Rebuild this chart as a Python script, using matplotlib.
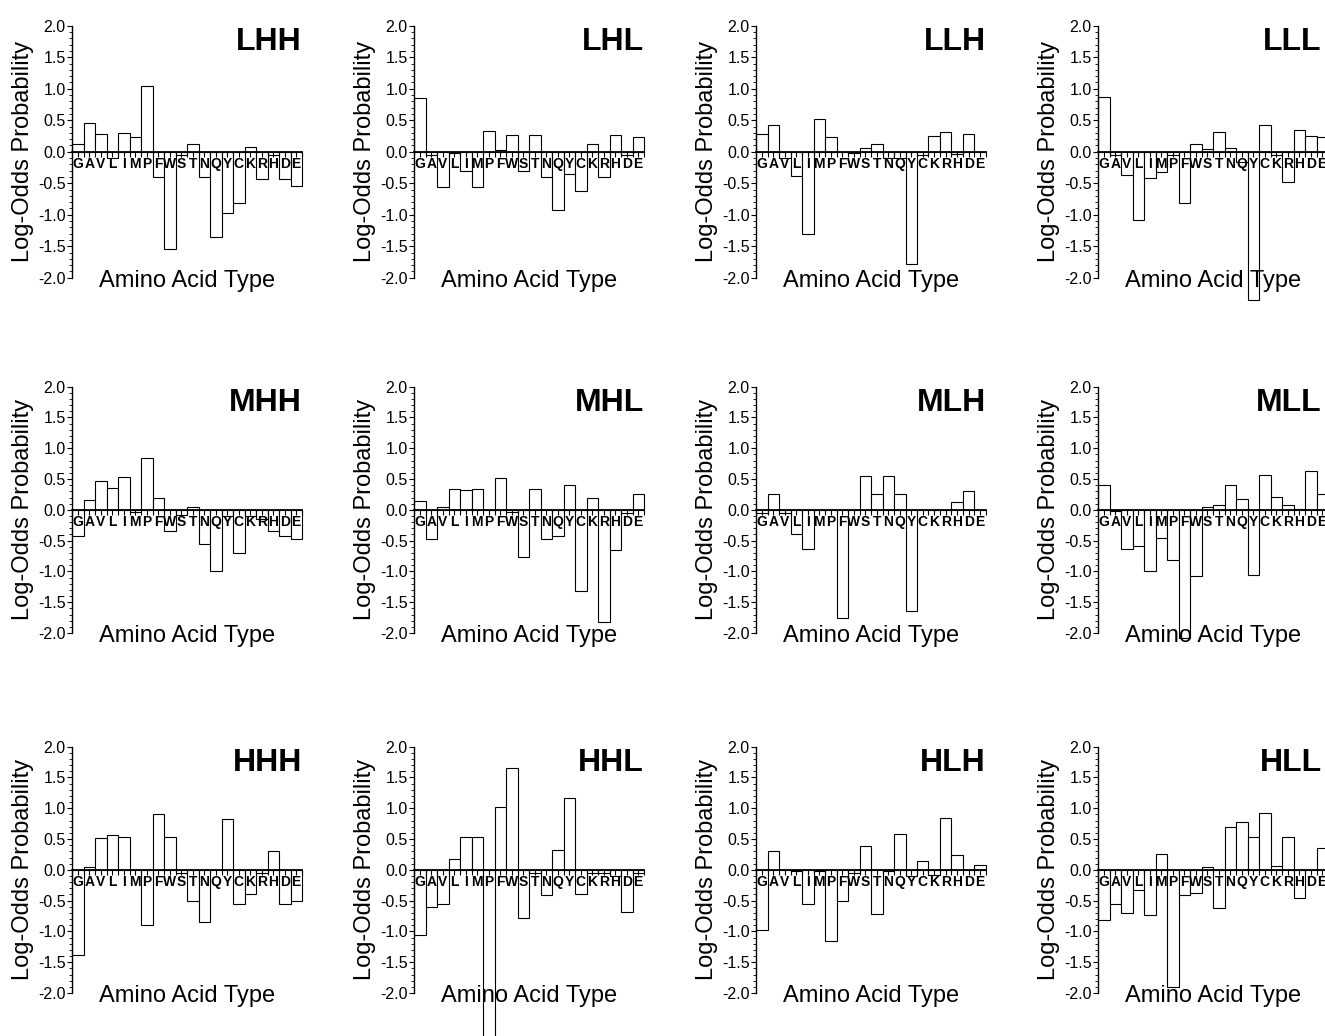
import numpy as np
import matplotlib.pyplot as plt
from matplotlib.ticker import MultipleLocator, FormatStrFormatter

plt.rcParams['font.family'] = ['Liberation Sans', 'DejaVu Sans']
plt.rcParams['axes.unicode_minus'] = False

# amino acid order along the x axis
amino_acids = list("GAVLIMPFWSTNQYCKRHDE")

# log-odds values, one list per panel
lhh = [0.12, 0.45, 0.28, -0.10, 0.30, 0.24, 1.04, -0.40, -1.54, -0.05,
       0.12, -0.40, -1.35, -0.97, -0.82, 0.07, -0.43, -0.05, -0.44, -0.54]
lhl = [0.85, -0.05, -0.56, -0.02, -0.30, -0.56, 0.33, 0.02, 0.27, -0.30,
       0.27, -0.40, -0.92, -0.36, -0.62, 0.13, -0.40, 0.27, -0.05, 0.23]
llh = [0.28, 0.42, -0.10, -0.38, -1.30, 0.52, 0.23, 0.0, -0.02, 0.06,
       0.13, -0.10, -0.10, -1.79, -0.05, 0.25, 0.31, -0.03, 0.28, 0.0]
lll = [0.87, -0.05, -0.37, -1.09, -0.41, -0.33, -0.05, -0.82, 0.12, 0.04,
       0.31, 0.06, -0.16, -2.35, 0.43, -0.05, -0.48, 0.34, 0.25, 0.23]
mhh = [-0.43, 0.16, 0.47, 0.35, 0.54, -0.03, 0.85, 0.19, -0.34, -0.08,
       0.04, -0.56, -1.00, -0.10, -0.70, -0.10, -0.15, -0.35, -0.42, -0.48]
mhl = [0.14, -0.48, 0.04, 0.34, 0.32, 0.34, 0.0, 0.52, -0.03, -0.77,
       0.34, -0.48, -0.42, 0.40, -1.32, 0.19, -1.82, -0.66, -0.05, 0.25]
mlh = [-0.05, 0.25, -0.05, -0.40, -0.64, 0.0, 0.0, -1.76, 0.0, 0.55,
       0.25, 0.55, 0.25, -1.64, 0.0, 0.0, 0.0, 0.12, 0.30, 0.0]
mll = [0.41, -0.02, -0.63, -0.59, -0.99, -0.45, -0.82, -2.08, -1.07, 0.04,
       0.08, 0.41, 0.18, -1.06, 0.57, 0.21, 0.08, 0.02, 0.63, 0.25]
hhh = [-1.39, 0.04, 0.52, 0.56, 0.53, 0.0, -0.90, 0.90, 0.53, -0.05,
       -0.50, -0.85, 0.0, 0.82, -0.56, -0.40, -0.05, 0.30, -0.56, -0.50]
hhl = [-1.05, -0.60, -0.56, 0.17, 0.53, 0.54, -3.00, 1.02, 1.66, -0.79,
       -0.05, -0.41, 0.32, 1.16, -0.39, -0.05, -0.05, -0.10, -0.68, -0.05]
hlh = [-0.97, 0.30, 0.0, -0.02, -0.55, -0.02, -1.15, -0.51, -0.05, 0.39,
       -0.72, -0.02, 0.59, -0.10, 0.14, -0.09, 0.84, 0.24, 0.0, 0.08]
hll = [-0.82, -0.56, -0.70, -0.32, -0.74, 0.26, -1.90, -0.41, -0.38, 0.05,
       -0.62, 0.69, 0.77, 0.54, 0.92, 0.06, 0.54, -0.45, 0.0, 0.36]

panel_names = ["LHH", "LHL", "LLH", "LLL",
               "MHH", "MHL", "MLH", "MLL",
               "HHH", "HHL", "HLH", "HLL"]
panel_values = [lhh, lhl, llh, lll,
                mhh, mhl, mlh, mll,
                hhh, hhl, hlh, hll]

W, H = 1325, 1036
fig = plt.figure(figsize=(W / 100, H / 100), dpi=100)

# panel placement in pixels
col_left = [72, 414, 756, 1098]
ax_width = 230
row_top = [25.7, 386.7, 746.7]
row_bottom = [277.7, 633, 993]
title_x = [1.0, 1.0, 1.0, 0.972]

x = np.arange(len(amino_acids))

for k, (name, vals) in enumerate(zip(panel_names, panel_values)):
    r, c = divmod(k, 4)
    left, top, bottom = col_left[c], row_top[r], row_bottom[r]
    ax = fig.add_axes([left / W, 1 - bottom / H, ax_width / W, (bottom - top) / H])

    ax.bar(x, vals, width=1.0, align='edge', color='white',
           edgecolor='black', linewidth=0.8, clip_on=False, zorder=1)

    ax.set_xlim(0, len(amino_acids))
    ax.set_ylim(-2.0, 2.0)

    ax.spines['top'].set_visible(False)
    ax.spines['right'].set_visible(False)
    ax.spines['bottom'].set_position(('data', 0))
    ax.spines['bottom'].set_linewidth(1.3)
    ax.spines['left'].set_linewidth(1.0)

    # x axis: letters under each bar, ticks at bar edges and centres
    ax.set_xticks(x + 0.5)
    ax.set_xticklabels(amino_acids, fontsize=10, fontweight='bold')
    ax.set_xticks(np.arange(len(amino_acids) + 1), minor=True)
    ax.tick_params(axis='x', which='both', direction='out', length=3.5,
                   width=0.8, pad=0.3)

    # y axis
    ax.yaxis.set_major_locator(MultipleLocator(0.5))
    ax.yaxis.set_minor_locator(MultipleLocator(0.1))
    ax.yaxis.set_major_formatter(FormatStrFormatter('%.1f'))
    ax.tick_params(axis='y', which='major', direction='out', length=3.5,
                   width=0.8, pad=1, labelsize=11.5)
    ax.tick_params(axis='y', which='minor', direction='out', length=2,
                   width=0.6)

    ax.set_ylabel('Log-Odds Probability', fontsize=17)
    ax.yaxis.set_label_coords(-0.165, 0.5)

    ax.text(title_x[c], 0.935, name, transform=ax.transAxes, ha='right',
            va='center', fontsize=23, fontweight='bold')
    ax.text(0.5, -2.05, 'Amino Acid Type', transform=ax.get_yaxis_transform(),
            ha='center', va='center', fontsize=17)
    ax.patch.set_visible(False)

fig.savefig('out.png', dpi=100)
